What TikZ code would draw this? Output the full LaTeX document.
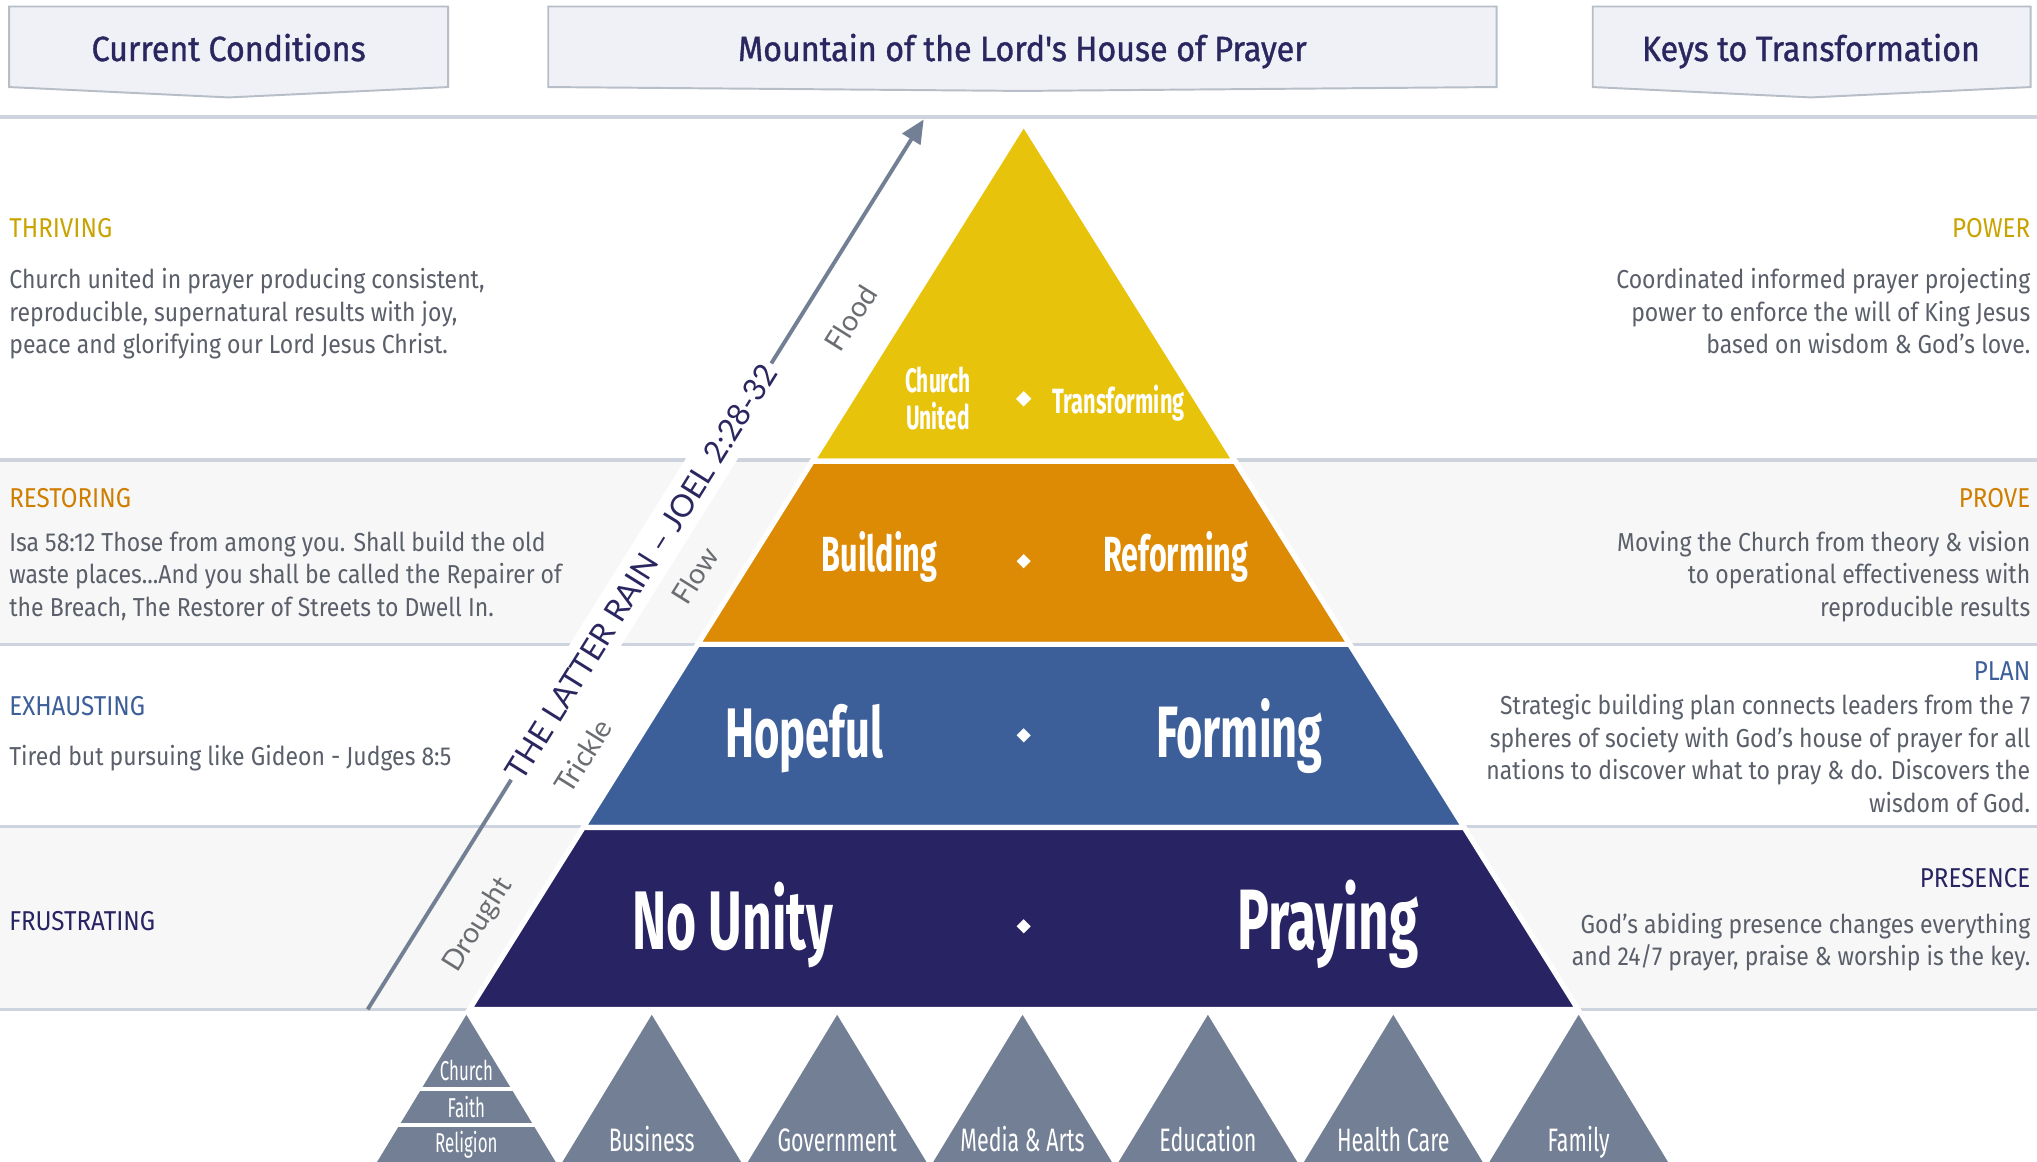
\documentclass[tikz,border=0pt]{standalone}
\usepackage{fontspec}
\setmainfont{Fira Sans}[FakeStretch=0.885]
\newfontfamily\condf{Fira Sans}[FakeStretch=0.62]
\newfontfamily\sphf{Fira Sans}[FakeStretch=0.66]
\newfontfamily\headf{Fira Sans}[FakeStretch=0.92,FakeBold=1]
\newfontfamily\thinf{Lato}
\usetikzlibrary{shapes.geometric,arrows.meta}
\definecolor{cyel}{HTML}{E8C30C}
\definecolor{cora}{HTML}{DD8A04}
\definecolor{cblu}{HTML}{3C5F99}
\definecolor{cnav}{HTML}{282362}
\definecolor{cslate}{HTML}{727F94}
\definecolor{hfill}{HTML}{EFF1F6}
\definecolor{hdraw}{HTML}{B8BEC8}
\definecolor{htext}{HTML}{2A2660}
\definecolor{btext}{HTML}{5A5F6A}
\definecolor{lyel}{HTML}{C9A400}
\definecolor{lora}{HTML}{CF7E00}
\definecolor{sepc}{HTML}{CDD4DE}
\definecolor{bandc}{HTML}{F7F7F7}
\definecolor{lblg}{HTML}{6A6D72}
\begin{document}
\begin{tikzpicture}[x=1pt,y=-1pt,
  hbox/.style={fill=hfill,draw=hdraw,line width=1.5},
  htitle/.style={text=htext,font=\headf\fontsize{27}{30}\selectfont,anchor=base},
  sep/.style={draw=sepc,line width=2.5},
  lhead/.style={anchor=base west,inner sep=0,font=\fontsize{21}{25}\selectfont},
  rhead/.style={anchor=base east,inner sep=0,font=\fontsize{21}{25}\selectfont},
  lpar/.style={anchor=north west,inner sep=0,align=left,text=btext,font=\fontsize{20}{25}\selectfont},
  rpar/.style={anchor=north east,inner sep=0,align=right,text=btext,font=\fontsize{20}{25}\selectfont},
  tier/.style={draw=white,line width=4,line join=miter},
  plab/.style={anchor=base,inner sep=0,text=white,font=\condf\bfseries},
  dia/.style={diamond,fill=white,inner sep=0,minimum size=12},
  sph/.style={fill=cslate,draw=white,line width=2},
  slab/.style={anchor=base,inner sep=0,text=white,font=\sphf\fontsize{25}{28}\selectfont},
  clab/.style={anchor=base,inner sep=0,text=white,font=\condf\fontsize{21}{25}\selectfont},
  alab/.style={rotate=58,text=lblg,font=\thinf\fontsize{22}{26}\selectfont,inner sep=0},
  arrowline/.style={draw=cslate,line width=3}
]
\useasboundingbox (0,0) rectangle (1568,894);
\fill[white] (0,0) rectangle (1568,894);
% bands
\fill[bandc] (0,354) rectangle (1568,496);
\fill[bandc] (0,636) rectangle (1568,777);
\foreach \yy in {90,354,496,636,777} \draw[sep] (0,\yy) -- (1568,\yy);

% header boxes
\path[hbox] (7,5) -- (345,5) -- (345,67) -- (176,75) -- (7,67) -- cycle;
\path[hbox] (422,5) -- (1152,5) -- (1152,67) -- (787,70) -- (422,67) -- cycle;
\path[hbox] (1226,5) -- (1563,5) -- (1563,67) -- (1394,75) -- (1226,67) -- cycle;
\node[htitle] (hcc) at (176,47) {Current Conditions};
\node[htitle] (hmt) at (787,47) {Mountain of the Lord's House of Prayer};
\node[htitle] (hkt) at (1394,47) {Keys to Transformation};

% left column
\node[lhead,text=lyel] (thr) at (7,183) {THRIVING};
\node[lpar] (thrp) at (7,204.5) {\strut Church united in prayer producing consistent,\\reproducible, supernatural results with joy,\\peace and glorifying our Lord Jesus Christ.};
\node[lhead,text=lora] (res) at (7,391) {RESTORING};
\node[lpar] (resp) at (7,406.5) {\strut Isa 58:12 Those from among you. Shall build the old\\waste places...And you shall be called the Repairer of\\the Breach, The Restorer of Streets to Dwell In.};
\node[lhead,text=cblu] (exh) at (7,551) {EXHAUSTING};
\node[lpar] (exhp) at (7,571.5) {\strut Tired but pursuing like Gideon - Judges 8:5};
\node[lhead,text=cnav] (fru) at (7,716) {FRUSTRATING};

% right column
\node[rhead,text=lyel] (pow) at (1563,183) {POWER};
\node[rpar] (powp) at (1563,204.5) {\strut Coordinated informed prayer projecting\\power to enforce the will of King Jesus\\based on wisdom \& God's love.};
\node[rhead,text=lora] (pro) at (1563,391) {PROVE};
\node[rpar] (prop) at (1563,406.5) {\strut Moving the Church from theory \& vision\\to operational effectiveness with\\reproducible results};
\node[rhead,text=cblu] (pla) at (1563,524) {PLAN};
\node[rpar] (plap) at (1563,532.5) {\strut Strategic building plan connects leaders from the 7\\spheres of society with God's house of prayer for all\\nations to discover what to pray \& do. Discovers the\\wisdom of God.};
\node[rhead,text=cnav] (pre) at (1563,683) {PRESENCE};
\node[rpar] (prep) at (1563,700.5) {\strut God's abiding presence changes everything\\and 24/7 prayer, praise \& worship is the key.};

% pyramid
\path[tier,fill=cyel] (788,95) -- (950.7,355) -- (625.3,355) -- cycle;
\path[tier,fill=cora] (625.3,355) -- (950.7,355) -- (1038.9,496) -- (537.1,496) -- cycle;
\path[tier,fill=cblu] (537.1,496) -- (1038.9,496) -- (1127.1,637) -- (448.9,637) -- cycle;
\path[tier,fill=cnav] (448.9,637) -- (1127.1,637) -- (1214.7,777) -- (361.3,777) -- cycle;

\node[plab,font=\condf\bfseries\fontsize{26}{29}\selectfont,align=center,anchor=north] (cu) at (722,282) {Church\\United};
\node[plab,font=\condf\bfseries\fontsize{27}{29}\selectfont] (tra) at (861,318) {Transforming};
\node[dia,minimum size=12] (d1) at (788,307) {};
\node[plab,font=\condf\bfseries\fontsize{38}{40}\selectfont] (bui) at (677,440) {Building};
\node[plab,font=\condf\bfseries\fontsize{38}{40}\selectfont] (ref) at (905,440) {Reforming};
\node[dia,minimum size=11] (d2) at (788,432) {};
\node[plab,font=\condf\bfseries\fontsize{54}{60}\selectfont] (hop) at (619,583) {Hopeful};
\node[plab,font=\condf\bfseries\fontsize{56}{60}\selectfont] (for) at (954,583) {Forming};
\node[dia,minimum size=11] (d3) at (788,566) {};
\node[plab,font=\condf\bfseries\fontsize{64}{68}\selectfont] (nou) at (564,731) {No Unity};
\node[plab,font=\condf\bfseries\fontsize{66}{68}\selectfont] (pra) at (1022,731) {Praying};
\node[dia,minimum size=11] (d4) at (788,713) {};

% latter rain arrow
\coordinate (ar0) at (283,777);
\coordinate (ar1) at (711,92);
\node[rotate=58,fill=white,inner sep=3,minimum height=34,text=htext,font=\thinf\fontsize{24}{28}\selectfont] (rain) at (493.6,440) {THE LATTER RAIN – JOEL 2:28-32};
\draw[arrowline] (ar0) -- (rain);
\draw[arrowline,-{Triangle[length=18,width=16]}] (rain) -- (ar1);
\node[alab] (dro) at (368,712) {Drought};
\node[alab] (tri) at (449,582) {Trickle};
\node[alab] (flo) at (535,443) {Flow};
\node[alab] (fld) at (655,245) {Flood};

% spheres
\foreach \cx/\nm/\lab in {501.7/bus/Business,644.4/gov/Government,787.1/med/Media \& Arts,929.8/edu/Education,1072.5/hea/Health Care,1215.2/fam/Family}{
  \path[sph] (\cx,779) -- (\cx+71,896) -- (\cx-71,896) -- cycle;
  \node[slab] (\nm) at (\cx,886) {\lab};
}
\path[sph] (359,779) -- (430,896) -- (288,896) -- cycle;
\draw[white,line width=3] (321.5,838) -- (396.5,838);
\draw[white,line width=3] (304.5,866) -- (413.5,866);
\node[clab] (chu) at (359,832) {Church};
\node[clab] (fai) at (359,860) {Faith};
\node[clab] (rel) at (359,887) {Religion};
\end{tikzpicture}
\end{document}
